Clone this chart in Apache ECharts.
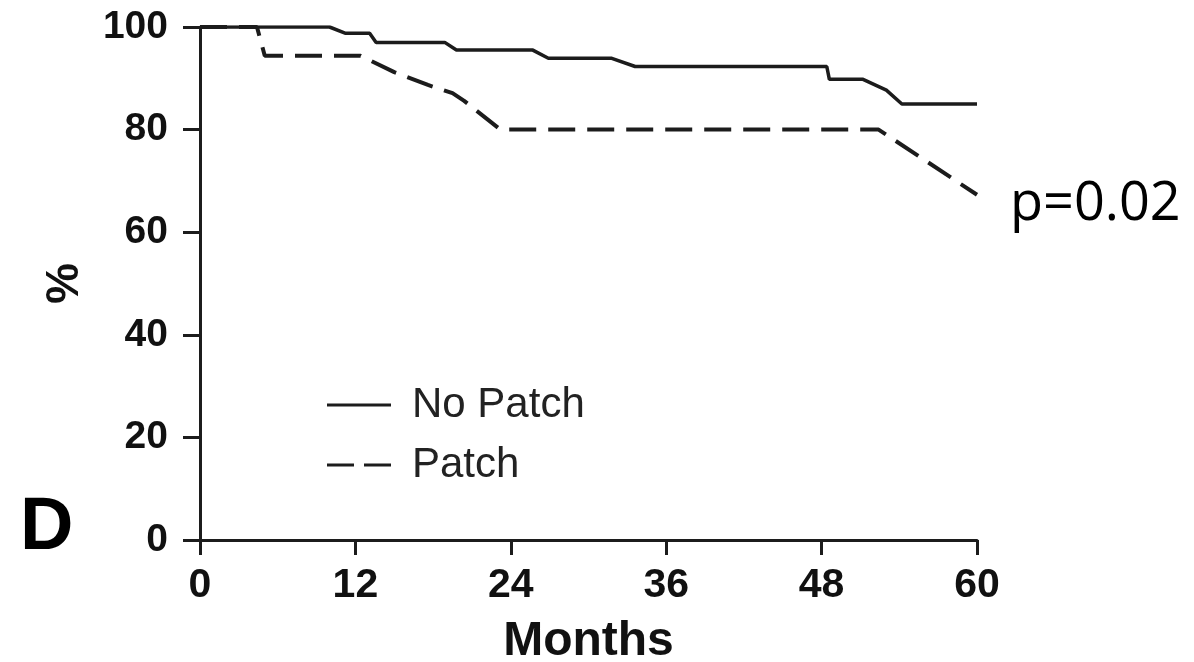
<!DOCTYPE html>
<html>
<head>
<meta charset="utf-8">
<style>
  html, body { margin: 0; padding: 0; background: #fff; }
  #chart { width: 1194px; height: 662px; }
</style>
<script src="https://cdn.jsdelivr.net/npm/echarts@6/dist/echarts.min.js"></script>
</head>
<body>
<div id="chart"></div>
<script>
// Kaplan-Meier style survival curves (months vs %)
const noPatchMonths = [0, 10, 11.2, 13.1, 13.6, 18.9, 19.8, 25.7, 26.9, 31.8, 33.6, 48.4, 48.6, 51.2, 53.0, 54.2, 60];
const noPatchPct    = [100, 100, 98.8, 98.8, 97.0, 97.0, 95.5, 95.5, 93.9, 93.9, 92.3, 92.3, 89.8, 89.8, 87.7, 85.0, 85.0];

const patchMonths = [0, 4.4, 5.0, 12.4, 15.0, 17.6, 19.5, 20.4, 23.2, 52.4, 60];
const patchPct    = [100, 100, 94.4, 94.4, 91.2, 88.7, 87.1, 85.6, 80.0, 80.0, 67.3];

const xTicks = [0, 12, 24, 36, 48, 60];
const yTicks = [0, 20, 40, 60, 80, 100];

const seriesNames = ['No Patch', 'Patch'];
const pValueText = 'p=0.02';
const panelLetter = 'D';

const pairs = (xs, ys) => xs.map((x, i) => [x, ys[i]]);

const ink = '#1c1c1c';
const boldFont = '"Liberation Sans", Arial, sans-serif';

// legend keys: a solid bar and a two-dash bar
const solidKey = 'path://M0,0h64v3H0z';
const dashKey = 'path://M0,0h27v3H0zM37,0h27v3H37z';

const chart = echarts.init(document.getElementById('chart'));
chart.setOption({
  animation: false,
  backgroundColor: '#ffffff',
  grid: {
    left: 200, right: 217, top: 27, bottom: 122,
    containLabel: false,
    outerBoundsMode: 'none'
  },
  legend: {
    orient: 'vertical',
    left: 322,
    top: 379,
    itemWidth: 64,
    itemHeight: 3,
    itemGap: 18,
    data: [
      { name: seriesNames[0], icon: solidKey },
      { name: seriesNames[1], icon: dashKey }
    ],
    itemStyle: { color: ink, borderWidth: 0 },
    lineStyle: { width: 0 },
    textStyle: {
      fontFamily: boldFont,
      fontSize: 42,
      color: '#222',
      padding: [0, 0, 0, 16]
    }
  },
  xAxis: {
    type: 'value',
    min: xTicks[0],
    max: xTicks[xTicks.length - 1],
    interval: 12,
    name: 'Months',
    nameLocation: 'middle',
    nameGap: 78,
    nameTextStyle: {
      fontFamily: boldFont,
      fontWeight: 'bold',
      fontSize: 48,
      color: '#111'
    },
    splitLine: { show: false },
    axisLine: { show: true, onZero: false, lineStyle: { color: ink, width: 3 } },
    axisTick: { show: true, inside: false, length: 15, lineStyle: { color: ink, width: 3 } },
    axisLabel: {
      margin: 25,
      fontFamily: boldFont,
      fontWeight: 'bold',
      fontSize: 41,
      color: '#111'
    }
  },
  yAxis: {
    type: 'value',
    min: yTicks[0],
    max: yTicks[yTicks.length - 1],
    interval: 20,
    name: '%',
    nameLocation: 'middle',
    nameRotate: 90,
    nameGap: 112,
    nameTextStyle: {
      fontFamily: boldFont,
      fontWeight: 'bold',
      fontSize: 46,
      color: '#111'
    },
    splitLine: { show: false },
    axisLine: { show: true, onZero: false, lineStyle: { color: ink, width: 3 } },
    axisTick: { show: true, length: 17, lineStyle: { color: ink, width: 3 } },
    axisLabel: {
      margin: 32,
      fontFamily: boldFont,
      fontWeight: 'bold',
      fontSize: 39,
      color: '#111'
    }
  },
  series: [
    {
      name: seriesNames[0],
      type: 'line',
      data: pairs(noPatchMonths, noPatchPct),
      symbol: 'none',
      lineStyle: { color: ink, width: 3.5, type: 'solid' },
      itemStyle: { color: ink }
    },
    {
      name: seriesNames[1],
      type: 'line',
      data: pairs(patchMonths, patchPct),
      symbol: 'none',
      lineStyle: { color: ink, width: 4, type: [27, 12] },
      itemStyle: { color: ink }
    }
  ],
  graphic: [
    {
      type: 'text',
      left: 1010,
      top: 178,
      style: {
        text: pValueText,
        font: '54px "Open Sans", "Noto Sans", sans-serif',
        fill: '#000'
      }
    },
    {
      type: 'text',
      left: 20,
      top: 492,
      style: {
        text: panelLetter,
        font: 'bold 74px "Liberation Sans", Arial, sans-serif',
        fill: '#000'
      }
    }
  ]
});
</script>
</body>
</html>
